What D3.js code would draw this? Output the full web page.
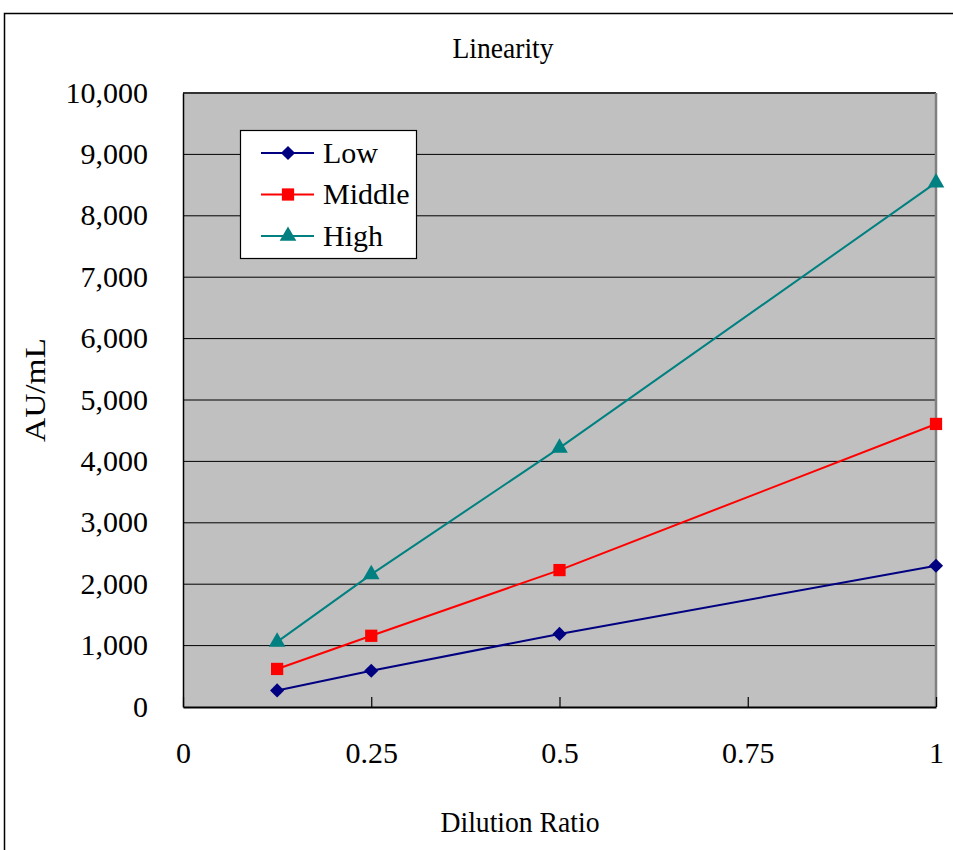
<!DOCTYPE html>
<html>
<head>
<meta charset="utf-8">
<script src="https://cdn.jsdelivr.net/npm/d3@7"></script>
<style>
  body { margin: 0; background: #fff; }
  text { font-family: "Liberation Serif", "Times New Roman", serif; fill: #000; }
</style>
</head>
<body>
<div id="chart"></div>
<script>
var ratios = [0.125, 0.25, 0.5, 1];
var lowVals = [270, 590, 1190, 2300];
var middleVals = [620, 1160, 2230, 4610];
var highVals = [1060, 2160, 4220, 8540];
var seriesNames = ["Low", "Middle", "High"];
var xTicks = [0, 0.25, 0.5, 0.75, 1];
var yTicks = [0, 1000, 2000, 3000, 4000, 5000, 6000, 7000, 8000, 9000, 10000];

var series = [
  {name: seriesNames[0], values: lowVals, color: "#000080", shape: d3.symbolSquare, size: 100, rot: 45},
  {name: seriesNames[1], values: middleVals, color: "#ff0000", shape: d3.symbolSquare, size: 150, rot: 0},
  {name: seriesNames[2], values: highVals, color: "#008080", shape: d3.symbolTriangle, size: 120, rot: 0}
];

var chartWidth = 953, chartHeight = 850;
var margin = {top: 93, right: 17, bottom: 143, left: 183},
    width = chartWidth - margin.left - margin.right,
    height = chartHeight - margin.top - margin.bottom;

var svg = d3.select("#chart").append("svg")
    .attr("width", chartWidth)
    .attr("height", chartHeight);

// outer chart border (runs off the right/bottom edge)
svg.append("rect")
    .attr("x", 4.5).attr("y", 13.5)
    .attr("width", chartWidth + 10).attr("height", chartHeight + 10)
    .attr("fill", "none").attr("stroke", "#000").attr("stroke-width", 1.5);

svg.append("text")
    .attr("x", 503).attr("y", 58)
    .attr("text-anchor", "middle")
    .attr("font-size", 30)
    .attr("textLength", 101).attr("lengthAdjust", "spacingAndGlyphs")
    .text("Linearity");

var x = d3.scaleLinear().domain([0, 1]).range([0, width]);
var y = d3.scaleLinear().domain([0, 10000]).range([height, 0]);

var g = svg.append("g")
    .attr("transform", "translate(" + margin.left + "," + margin.top + ")");

g.append("rect")
    .attr("width", width).attr("height", height)
    .attr("fill", "#c0c0c0");

// gridlines
g.selectAll(".grid")
  .data(yTicks.slice(1))
  .enter().append("line")
    .attr("class", "grid")
    .attr("x1", 0).attr("x2", width)
    .attr("y1", function(d){ return y(d); })
    .attr("y2", function(d){ return y(d); })
    .attr("stroke", "#000").attr("stroke-width", 1);

// plot frame: top dark, right grey
g.append("line")
    .attr("x1", 0).attr("x2", width).attr("y1", 0).attr("y2", 0)
    .attr("stroke", "#333").attr("stroke-width", 2);
g.append("line")
    .attr("x1", width).attr("x2", width).attr("y1", 0).attr("y2", height)
    .attr("stroke", "#808080").attr("stroke-width", 2.5);

// y axis
var yAxis = g.append("g")
    .call(d3.axisLeft(y).tickValues(yTicks).tickSize(0).tickPadding(35).tickFormat(d3.format(",")));
yAxis.select(".domain").attr("stroke", "#000").attr("stroke-width", 1.5);
yAxis.selectAll("text")
    .attr("font-size", 30)
    .attr("dy", "0.3em");

// x axis with inside ticks
var xAxis = g.append("g")
    .attr("transform", "translate(0," + height + ")")
    .call(d3.axisBottom(x).tickValues(xTicks).tickSizeInner(-10).tickSizeOuter(0).tickPadding(0).tickFormat(function(d){ return d; }));
xAxis.select(".domain").attr("stroke", "#000").attr("stroke-width", 2);
xAxis.selectAll("line").attr("stroke", "#000").attr("stroke-width", 1.2);
xAxis.selectAll("text")
    .attr("font-size", 30)
    .attr("y", 56).attr("dy", 0);

// axis titles
svg.append("text")
    .attr("x", 520).attr("y", 832)
    .attr("text-anchor", "middle")
    .attr("font-size", 30)
    .attr("textLength", 159).attr("lengthAdjust", "spacingAndGlyphs")
    .text("Dilution Ratio");

svg.append("text")
    .attr("transform", "translate(45,390) rotate(-90)")
    .attr("text-anchor", "middle")
    .attr("font-size", 30)
    .attr("textLength", 104).attr("lengthAdjust", "spacingAndGlyphs")
    .text("AU/mL");

// series lines + markers
var line = d3.line()
    .x(function(d, i){ return x(ratios[i]); })
    .y(function(d){ return y(d); });

series.forEach(function(s) {
  g.append("path")
      .datum(s.values)
      .attr("fill", "none")
      .attr("stroke", s.color)
      .attr("stroke-width", 2)
      .attr("d", line);

  g.selectAll(".m-" + s.name)
    .data(s.values)
    .enter().append("path")
      .attr("class", "m-" + s.name)
      .attr("transform", function(d, i){ return "translate(" + x(ratios[i]) + "," + y(d) + ") rotate(" + s.rot + ")"; })
      .attr("d", d3.symbol().type(s.shape).size(s.size))
      .attr("fill", s.color);
});

// legend
var legend = svg.append("g").attr("transform", "translate(240,130)");
legend.append("rect")
    .attr("x", 0.5).attr("y", 0.5)
    .attr("width", 176).attr("height", 128)
    .attr("fill", "#fff").attr("stroke", "#000").attr("stroke-width", 1.2);

var rows = legend.selectAll(".row")
  .data(series)
  .enter().append("g")
    .attr("class", "row")
    .attr("transform", function(d, i){ return "translate(0," + (23 + i * 41.5) + ")"; });

rows.append("line")
    .attr("x1", 21).attr("x2", 74)
    .attr("stroke", function(d){ return d.color; })
    .attr("stroke-width", 2);
rows.append("path")
    .attr("transform", function(d){ return "translate(48,0) rotate(" + d.rot + ")"; })
    .attr("d", function(d){ return d3.symbol().type(d.shape).size(d.size)(); })
    .attr("fill", function(d){ return d.color; });
rows.append("text")
    .attr("x", 83).attr("dy", "0.33em")
    .attr("font-size", 30)
    .text(function(d){ return d.name; });
</script>
</body>
</html>
